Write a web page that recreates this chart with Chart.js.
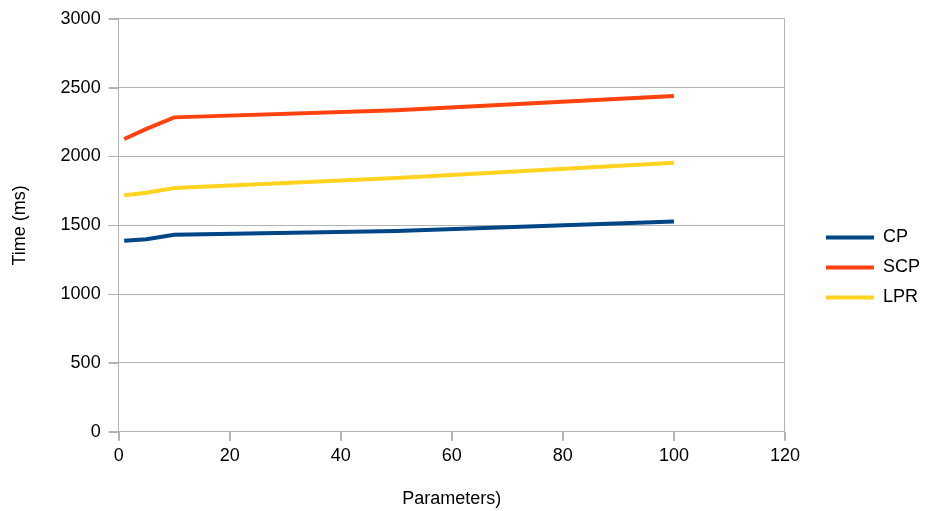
<!DOCTYPE html>
<html><head><meta charset="utf-8">
<script src="https://cdn.jsdelivr.net/npm/chart.js@4/dist/chart.umd.min.js"></script>
<style>html,body{margin:0;padding:0;background:#fff}#w{width:926px;height:511px}</style>
</head><body><div id="w"><canvas id="c"></canvas></div>
<script>
const xValues = [1, 5, 10, 50, 100];
const cpValues = [1388, 1398, 1431, 1458, 1528];
const scpValues = [2127, 2200, 2284, 2335, 2440];
const lprValues = [1718, 1737, 1771, 1843, 1955];
const seriesNames = ['CP', 'SCP', 'LPR'];
const seriesColors = ['#004586', '#ff420e', '#ffd320'];
const yTicks = [0, 500, 1000, 1500, 2000, 2500, 3000];
const xTicks = [0, 20, 40, 60, 80, 100, 120];

const toPts = v => xValues.map((x, i) => ({x: x, y: v[i]}));
const allSeries = [cpValues, scpValues, lprValues];
const datasets = allSeries.map((v, i) => ({
  label: seriesNames[i], data: toPts(v), borderColor: seriesColors[i], backgroundColor: seriesColors[i],
  borderWidth: 4, pointRadius: 0, tension: 0, fill: false
}));
const grid = '#b3b3b3';
const GAP = 29, LEG_DY = 9;
const legendGap = {
  id: 'legendGap',
  beforeLayout(chart) {
    const lg = chart.legend;
    if (lg && !lg._gapPatched) {
      const f = lg.fit;
      lg.fit = function () { f.call(this); this.width += GAP; };
      lg._gapPatched = true;
    }
  },
  afterLayout(chart) {
    const lg = chart.legend;
    if (lg) { lg.left += GAP; lg.top += LEG_DY; lg.bottom += LEG_DY; }
  }
};
const tickMarks = {
  id: 'tickMarks',
  afterDraw(chart) {
    const ctx = chart.ctx, a = chart.chartArea, xs = chart.scales.x, ys = chart.scales.y;
    ctx.save();
    ctx.strokeStyle = grid; ctx.lineWidth = 1;
    ctx.beginPath();
    ys.ticks.forEach(t => { const p = Math.round(ys.getPixelForValue(t.value)) + 0.5; ctx.moveTo(a.left - 10, p); ctx.lineTo(a.left, p); });
    xs.ticks.forEach(t => { const p = Math.round(xs.getPixelForValue(t.value)) + 0.5; ctx.moveTo(p, a.bottom); ctx.lineTo(p, a.bottom + 9); });
    ctx.stroke();
    ctx.restore();
  }
};
Chart.defaults.font.family = '"Liberation Sans", Arial, sans-serif';
Chart.defaults.color = '#000';
new Chart(document.getElementById('c'), {
  type: 'line',
  data: {datasets},
  plugins: [legendGap, tickMarks],
  options: {
    responsive: true, maintainAspectRatio: false, animation: false,
    layout: {padding: {left: 4, right: -4, top: 6, bottom: 0}},
    plugins: {
      tooltip: {enabled: false},
      legend: {position: 'right', align: 'center',
        labels: {boxWidth: 48, boxHeight: 4, font: {size: 18}, padding: 12, color: '#000',
          generateLabels: ch => Chart.defaults.plugins.legend.labels.generateLabels(ch).map(l => Object.assign(l, {lineWidth: 0}))}}
    },
    scales: {
      x: {type: 'linear', min: 0, max: 120,
        afterBuildTicks: ax => { ax.ticks = xTicks.map(v => ({value: v})); },
        grid: {color: c => c.tick && c.tick.value === 120 ? grid : 'rgba(0,0,0,0)', tickColor: grid, tickLength: 9, drawTicks: true},
        border: {color: grid},
        ticks: {font: {size: 18}, color: '#000', padding: 4, maxRotation: 0, callback: v => String(v)},
        title: {display: true, text: 'Parameters)', font: {size: 18}, color: '#000', padding: {top: 18, bottom: 1}}
      },
      y: {min: 0, max: 3000,
        afterBuildTicks: ax => { ax.ticks = yTicks.map(v => ({value: v})); },
        grid: {color: grid, tickColor: grid, tickLength: 10},
        border: {color: grid},
        ticks: {font: {size: 18}, color: '#000', padding: 8, callback: v => String(v)},
        title: {display: true, text: 'Time (ms)', font: {size: 18}, color: '#000', padding: {top: 5, bottom: 22}}
      }
    }
  }
});
</script></body></html>
